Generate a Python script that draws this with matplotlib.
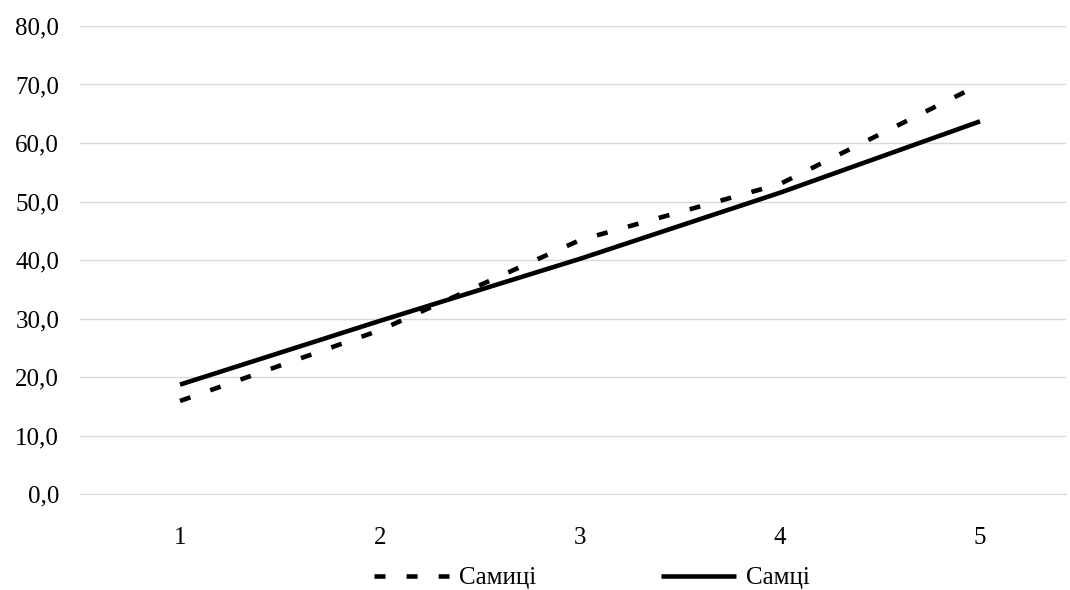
import matplotlib
matplotlib.use("Agg")
import matplotlib.pyplot as plt
from matplotlib.ticker import FuncFormatter

# Data
categories = [1, 2, 3, 4, 5]
females = [15.9, 28.0, 43.4, 53.0, 70.0]   # Самиці (dashed)
males = [18.7, 29.6, 40.2, 51.5, 63.7]     # Самці (solid)
y_ticks = [0, 10, 20, 30, 40, 50, 60, 70, 80]

plt.rcParams['font.family'] = ['Liberation Serif', 'DejaVu Serif']

fig = plt.figure(figsize=(10.7, 5.9), dpi=100)
ax = fig.add_axes([80 / 1070, 1 - 494 / 590, (1066 - 80) / 1070, (494 - 26) / 590])

ax.plot(categories, females, color='black', linewidth=3.3, linestyle=(0, (2.4, 4.6)),
        dash_capstyle='butt', label='Самиці')
ax.plot(categories, males, color='black', linewidth=3.3, solid_capstyle='butt', label='Самці')

ax.set_xlim(0.5, 5 + 86 / 200)
ax.set_ylim(0, 80)
ax.set_xticks(categories)
ax.set_yticks(y_ticks)
ax.yaxis.set_major_formatter(FuncFormatter(lambda v, p: f"{v:.1f}".replace('.', ',')))

ax.grid(axis='y', color='#d9d9d9', linewidth=1)
ax.set_axisbelow(True)
for side in ['top', 'right', 'left']:
    ax.spines[side].set_visible(False)
ax.spines['bottom'].set_color('#d9d9d9')
ax.tick_params(axis='both', length=0, labelsize=18)
ax.tick_params(axis='x', pad=24)
ax.tick_params(axis='y', pad=15)

fig.legend(loc='center', bbox_to_anchor=(0.553, 1 - 578 / 590), ncol=2, frameon=False,
           fontsize=18, handlelength=3.0, columnspacing=5, handletextpad=0.4)

fig.savefig('out.png', dpi=100)
